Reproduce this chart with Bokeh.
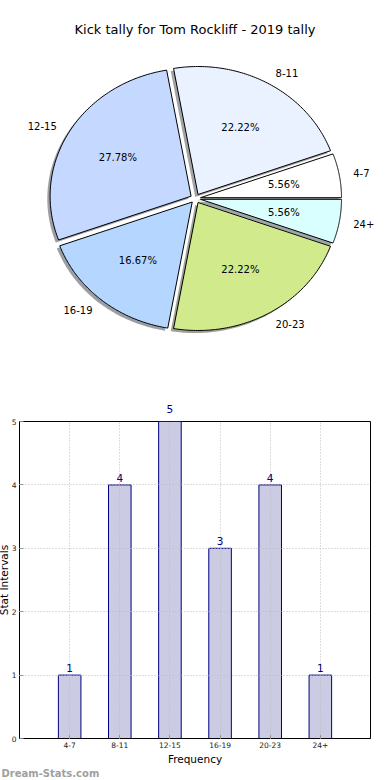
import numpy as np
from bokeh.plotting import figure
from bokeh.models import Range1d, Label, ColumnDataSource, FixedTicker, LinearAxis, Title
from bokeh.layouts import column
from bokeh.core.properties import value
from bokeh.embed import file_html
from bokeh.resources import INLINE

# ---------------- data ----------------
title_text = "Kick tally for Tom Rockliff - 2019 tally"
categories = ["4-7", "8-11", "12-15", "16-19", "20-23", "24+"]
counts = [1, 4, 5, 3, 4, 1]
pie_colors = ["#ffffff", "#eaf2ff", "#c5d8ff", "#b5d6ff", "#d0ea8c", "#d9ffff"]
x_label = "Frequency"
y_label = "Stat Intervals"
watermark = "Dream-Stats.com"

# ---------------- styles / layout ----------------
FONT = "DejaVu Sans"
W = 382
H_PIE = 390
H_BAR = 390
SHIFT = 6               # bar canvas starts a little left of the page edge
BL = 19 + SHIFT         # left border (frames of both plots are aligned by the column)
BR = 12 - SHIFT         # right border
CX, CY = 195.0, 198.0   # pie centre in px
RX, RY = 141.0, 128.0   # px per unit radius (elliptical pie)
EXPLODE = 0.036
SHADOW = 0.02
bar_fill = "#cbcbe4"
bar_line = "#000080"

# ---------------- pie ----------------
vals = np.array(counts, dtype=float)
fracs = vals / vals.sum()
ends = np.cumsum(fracs) * 2 * np.pi
starts = ends - fracs * 2 * np.pi
mids = (starts + ends) / 2
ox = EXPLODE * np.cos(mids)
oy = EXPLODE * np.sin(mids)

xs, ys = [], []
for s, e, dx, dy in zip(starts, ends, ox, oy):
    t = np.linspace(s, e, 90)
    xs.append(np.concatenate([[dx], dx + np.cos(t), [dx]]))
    ys.append(np.concatenate([[dy], dy + np.sin(t), [dy]]))


def hex_to_rgb(h):
    h = h.lstrip("#")
    return [int(h[i:i + 2], 16) for i in (0, 2, 4)]


shadow_colors = ["#%02x%02x%02x" % tuple(int(0.3 * c) for c in hex_to_rgb(col)) for col in pie_colors]

pp = figure(width=W, height=H_PIE, output_backend="svg", toolbar_location=None,
            x_range=Range1d((BL - CX) / RX, (W - BR - CX) / RX),
            y_range=Range1d(-(H_PIE - CY) / RY, CY / RY),
            x_axis_location=None, y_axis_location=None,
            min_border_left=BL, min_border_right=BR, min_border_top=0, min_border_bottom=0,
            outline_line_color=None)
pp.grid.visible = False
pp.background_fill_color = "white"
pp.border_fill_color = "white"

pp.patches(xs=[x - SHADOW for x in xs], ys=[y - SHADOW for y in ys],
           fill_color=shadow_colors, fill_alpha=0.5, line_color=None)
pp.patches(xs=xs, ys=ys, fill_color=pie_colors, line_color="black", line_width=1)

lx = ox + 1.1 * np.cos(mids)
ly = oy + 1.1 * np.sin(mids)
right = np.cos(mids) > 0
src_r = ColumnDataSource(dict(x=lx[right], y=ly[right],
                              t=[c for c, r in zip(categories, right) if r]))
src_l = ColumnDataSource(dict(x=lx[~right], y=ly[~right],
                              t=[c for c, r in zip(categories, right) if not r]))
pp.text(x="x", y="y", text="t", source=src_r, text_align="left", text_baseline="middle",
        text_font=value(FONT), text_font_size="10px", text_color="black")
pp.text(x="x", y="y", text="t", source=src_l, text_align="right", text_baseline="middle",
        text_font=value(FONT), text_font_size="10px", text_color="black")

px = ox + 0.6 * np.cos(mids)
py = oy + 0.6 * np.sin(mids)
src_p = ColumnDataSource(dict(x=px, y=py, t=["%.2f%%" % (100 * f) for f in fracs]))
pp.text(x="x", y="y", text="t", source=src_p, text_align="center", text_baseline="middle",
        text_font=value(FONT), text_font_size="10px", text_color="black")

pp.add_layout(Label(x=194.5 - BL, y=H_PIE - 29, x_units="screen", y_units="screen",
                    text=title_text, text_align="center", text_baseline="middle",
                    text_font=FONT, text_font_size="13px", text_color="black"))

# ---------------- bars ----------------
positions = list(range(1, len(categories) + 1))
ymax = max(counts)
pb = figure(width=W + SHIFT, height=H_BAR, output_backend="svg", toolbar_location=None,
            x_range=Range1d(0, len(categories) + 1), y_range=Range1d(0, ymax),
            min_border_left=BL, min_border_right=BR, min_border_top=31,
            min_border_bottom=40, margin=(0, 0, 0, -SHIFT))
pb.background_fill_color = "white"
pb.border_fill_color = "white"
pb.outline_line_color = "black"
pb.outline_line_width = 1
xa = pb.below[0]
ya = pb.left[0]

pb.vbar(x=positions, top=counts, width=0.45, fill_color=bar_fill, line_color=bar_line, line_width=1)

# value labels inside the frame
for xp, c in zip(positions, counts):
    if c < ymax:
        pb.add_layout(Label(x=xp, y=c, y_offset=3, text=str(c), text_align="center",
                            text_baseline="bottom", text_font=FONT, text_font_size="10.5px",
                            text_color=bar_line))
# value labels of bars that reach the top of the frame sit above it
top_ax = LinearAxis(ticker=FixedTicker(ticks=[xp for xp, c in zip(positions, counts) if c >= ymax]),
                    major_label_overrides={xp: str(c) for xp, c in zip(positions, counts) if c >= ymax},
                    axis_line_color=None, major_tick_line_color=None, minor_tick_line_color=None,
                    major_label_standoff=3, major_label_text_font=FONT,
                    major_label_text_font_size="10.5px", major_label_text_color=bar_line)
pb.add_layout(top_ax, "above")

xa.ticker = FixedTicker(ticks=positions)
xa.major_label_overrides = {p: c for p, c in zip(positions, categories)}
ya.ticker = FixedTicker(ticks=list(range(0, ymax + 1)))
for ax in (xa, ya):
    ax.major_tick_in = 4
    ax.major_tick_out = 0
    ax.minor_tick_in = 0
    ax.minor_tick_out = 0
    ax.major_tick_line_color = "#888888"
    ax.axis_line_color = "black"
    ax.major_label_text_font = FONT
    ax.major_label_text_font_size = "7.5px"
    ax.major_label_text_color = "#222222"
    ax.major_label_standoff = 3
    ax.axis_label_text_font = FONT
    ax.axis_label_text_font_size = "10.5px"
    ax.axis_label_text_font_style = "normal"
    ax.axis_label_text_color = "black"
xa.axis_label = x_label
xa.axis_label_standoff = 2
ya.axis_label = y_label
ya.axis_label_standoff = -1

for g in (pb.xgrid[0], pb.ygrid[0]):
    g.grid_line_color = "#bdbdbd"
    g.grid_line_dash = "1 2"
    g.grid_line_width = 1
    g.level = "annotation"
pb.xgrid[0].ticker = FixedTicker(ticks=positions)
pb.ygrid[0].ticker = FixedTicker(ticks=list(range(0, ymax + 1)))

pb.add_layout(Title(text=watermark, align="left", offset=-18, standoff=0, vertical_align="top",
                    text_font=FONT, text_font_size="10px", text_font_style="bold",
                    text_color="#a0a0a0"), "below")

layout = column(pp, pb, spacing=0)
open("out.html", "w").write(file_html(layout, INLINE))
